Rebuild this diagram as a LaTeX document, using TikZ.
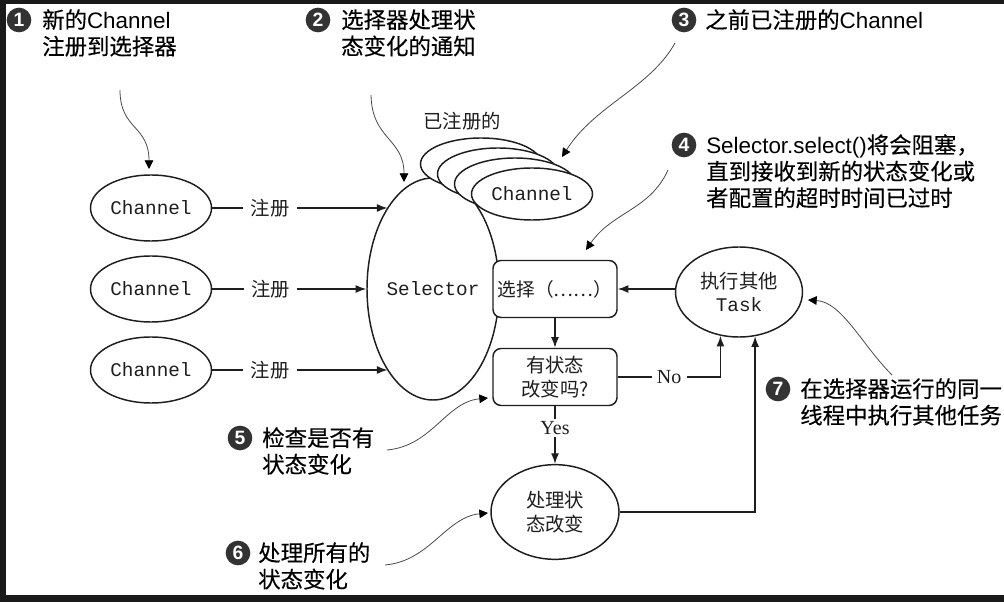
\documentclass[tikz,border=0pt]{standalone}
\usepackage{fontspec}
\setmainfont{Liberation Sans}
\newfontfamily\cjk{Noto Sans CJK SC}
\newfontfamily\cjkm[FakeBold=0.3]{Noto Sans CJK SC}
\newfontfamily\mono{Liberation Mono}
\newfontfamily\tnr{Liberation Serif}
\usetikzlibrary{shapes.geometric,arrows.meta}

\definecolor{framebg}{HTML}{1A1A1A}
\definecolor{markgray}{HTML}{333333}
\definecolor{notegray}{HTML}{4A4A4A}
\definecolor{ink}{HTML}{1E1E1E}

\tikzset{
  outline/.style={draw=ink, line width=1.1pt, fill=white},
  chan/.style={outline, ellipse, inner sep=0pt, minimum width=90.75pt, minimum height=49.5pt,
    font=\mono\fontsize{14.5}{16}\selectfont, text=ink},
  selector/.style={outline, ellipse, inner sep=0pt, minimum width=99pt, minimum height=166.5pt,
    font=\mono\fontsize{14.5}{16}\selectfont, text=ink},
  stackell/.style={outline, ellipse, inner sep=0pt, minimum width=90.75pt, minimum height=39pt,
    font=\mono\fontsize{14.5}{16}\selectfont, text=ink},
  box/.style={outline, rectangle, rounded corners=6pt, minimum width=93pt, minimum height=42.75pt,
    inner sep=0pt, align=center, font=\cjk\fontsize{14.5}{18}\selectfont, text=ink},
  task/.style={outline, ellipse, inner sep=0pt, minimum width=95.25pt, minimum height=67.5pt,
    align=center, font=\fontsize{14.5}{17.25}\selectfont, text=ink},
  proc/.style={outline, ellipse, inner sep=0pt, minimum width=96pt, minimum height=71pt,
    align=center, font=\cjk\fontsize{14.5}{18}\selectfont, text=ink},
  plain/.style={inner sep=0pt, font=\cjk\fontsize{14.5}{17}\selectfont, text=ink},
  reg/.style={fill=white, inner xsep=5.5pt, inner ysep=2pt, font=\cjk\fontsize{14.5}{17}\selectfont, text=ink},
  lbl/.style={fill=white, inner xsep=4pt, inner ysep=2pt, font=\tnr\fontsize{15}{17}\selectfont, text=ink},
  flow/.style={draw=ink, line width=1.1pt, -{Latex[length=8pt,width=6pt]}},
  marker/.style={circle, fill=markgray, text=white, minimum size=18.5pt, inner sep=0pt,
    font=\bfseries\fontsize{14.5}{15}\selectfont},
  ann/.style={anchor=north west, inner sep=0pt, align=left, text=black,
    font=\fontsize{16.8}{19.9}\selectfont},
  note/.style={draw=notegray, line width=0.6pt, -{Triangle[length=6.5pt,width=6.5pt,color=black]}},
}

\begin{document}
\begin{tikzpicture}[x=0.75pt,y=-0.75pt]
  \useasboundingbox (0,0) rectangle (1004,602);
  % dark frame on the left, top and bottom
  \fill[framebg] (0,0) rectangle (1004,602);
  \fill[white] (6,4) rectangle (1004,595);

  % selector and the stack of registered channels
  \node[selector] (sel) at (433,289) {Selector};
  \node[stackell] (s4) at (481,164) {};
  \node[stackell] (s3) at (498,174) {};
  \node[stackell] (s2) at (515,184) {};
  \node[stackell] (s1) at (532,194) {Channel};
  \node[plain] (regd) at (462,121) {已注册的};

  % new channels
  \node[chan] (c1) at (151,208) {Channel};
  \node[chan] (c2) at (151,289) {Channel};
  \node[chan] (c3) at (151,370) {Channel};

  \draw[flow] (c1.east) -- node[reg, pos=0.33] {注册} (c1.east -| sel.119);
  \draw[flow] (c2.east) -- node[reg, pos=0.38] {注册} (sel.west);
  \draw[flow] (c3.east) -- node[reg, pos=0.33] {注册} (c3.east -| sel.241);

  % select loop
  \node[box, font=\cjk\fontsize{14}{18}\selectfont] (b1) at (555,289) {选择（……）};
  \node[box] (b2) at (555,377) {\cjk 有状态\\\cjk 改变吗?};
  \node[task] (task) at (739,292) {\cjk 执行其他\\\mono Task};
  \node[proc] (proc) at (555,512) {\cjk 处理状\\\cjk 态改变};

  \draw[flow] (b1) -- (b2);
  \draw[flow] (task.west |- b1.east) -- (b1.east);
  \draw[flow] (b2.east) -- node[lbl, pos=0.5] {No} (b2.east -| task.247) -- (task.247);
  \draw[flow] (b2.south) -- node[lbl, pos=0.38] {Yes} (proc.north);
  \draw[flow] (proc.east) -- (proc.east -| task.290) -- (task.290);

  % numbered notes
  \node[marker] (m1) at (19,20) {1};
  \node[ann] (t1) at (42,9) {{\cjkm 新的}Channel\\\cjkm 注册到选择器};
  \node[marker] (m2) at (318,20) {2};
  \node[ann] (t2) at (341,9) {\cjkm 选择器处理状\\\cjkm 态变化的通知};
  \node[marker] (m3) at (684,20) {3};
  \node[ann] (t3) at (705,9) {{\cjkm 之前已注册的}Channel};
  \node[marker] (m4) at (684,145) {4};
  \node[ann] (t4) at (706,134) {Selector.select(){\cjkm 将会阻塞，}\\\cjkm 直到接收到新的状态变化或\\\cjkm 者配置的超时时间已过时};
  \node[marker] (m5) at (240,438) {5};
  \node[ann] (t5) at (262,427) {\cjkm 检查是否有\\\cjkm 状态变化};
  \node[marker] (m6) at (238,553) {6};
  \node[ann] (t6) at (258,542) {\cjkm 处理所有的\\\cjkm 状态变化};
  \node[marker] (m7) at (778,389) {7};
  \node[ann] (t7) at (800,378) {\cjkm 在选择器运行的同一\\\cjkm 线程中执行其他任务};

  % note pointers
  \coordinate (p1s) at (120,90);   \coordinate (p1e) at (149,169);
  \coordinate (p2s) at (371,95);   \coordinate (p2e) at (404,182);
  \coordinate (p3s) at (675,43);   \coordinate (p3e) at (562,157);
  \coordinate (p4s) at (668,170);  \coordinate (p4e) at (586,250);
  \coordinate (p5s) at (387,450);  \coordinate (p5e) at (488,398);
  \coordinate (p6s) at (385,565);  \coordinate (p6e) at (488,513);
  \coordinate (p7s) at (892,375);  \coordinate (p7e) at (808,300);
  \draw[note] (p1s) .. controls (120,130) and (149,125) .. (p1e);
  \draw[note] (p2s) .. controls (372,140) and (404,138) .. (p2e);
  \draw[note] (p3s) .. controls (650,88) and (595,105) .. (p3e);
  \draw[note] (p4s) .. controls (650,210) and (612,212) .. (p4e);
  \draw[note] (p5s) .. controls (432,446) and (446,402) .. (p5e);
  \draw[note] (p6s) .. controls (430,561) and (446,517) .. (p6e);
  \draw[note] (p7s) .. controls (862,345) and (842,302) .. (p7e);
\end{tikzpicture}
\end{document}
